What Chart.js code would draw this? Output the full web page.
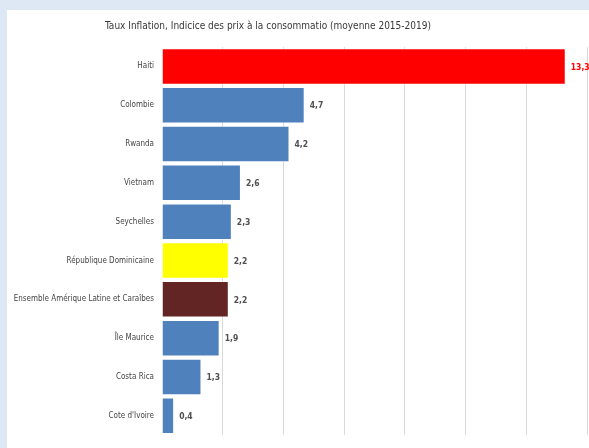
<!DOCTYPE html>
<html>
<head>
<meta charset="utf-8">
<script src="https://cdn.jsdelivr.net/npm/chart.js@4/dist/chart.umd.min.js"></script>
<style>
  html, body { margin: 0; padding: 0; background: #dde8f4; width: 589px; height: 448px; overflow: hidden; }
  #wrap { position: absolute; left: 7px; top: 10px; width: 582px; height: 438px; background: #ffffff; }
  canvas { display: block; }
</style>
</head>
<body>
<div id="wrap"><canvas id="c" width="582" height="438"></canvas></div>
<script>
const titleText = "Taux Inflation, Indicice des prix à la consommatio (moyenne 2015-2019)";
const categories = [
  "Haiti", "Colombie", "Rwanda", "Vietnam", "Seychelles",
  "République Dominicaine", "Ensemble Amérique Latine et Caraîbes",
  "Île Maurice", "Costa Rica", "Cote d'Ivoire"
];
const inflation = [13.3, 4.7, 4.2, 2.6, 2.3, 2.2, 2.2, 1.9, 1.3, 0.4];
const barColors = [
  "#ff0000", "#4f81bd", "#4f81bd", "#4f81bd", "#4f81bd",
  "#ffff00", "#632523", "#4f81bd", "#4f81bd", "#4f81bd"
];
const labelColors = [
  "#ff0000", "#505050", "#505050", "#505050", "#505050",
  "#505050", "#505050", "#505050", "#505050", "#505050"
];
const FONT = "'DejaVu Sans Condensed', sans-serif";

// chart title, centred over the full drawing
const titlePlugin = {
  id: "fixedTitle",
  afterDraw(chart) {
    const ctx = chart.ctx;
    ctx.save();
    ctx.font = "10px " + FONT;
    ctx.fillStyle = "#383838";
    ctx.textAlign = "center";
    ctx.textBaseline = "middle";
    ctx.fillText(titleText, 261, 16);
    ctx.restore();
  }
};

// value written just past the end of each bar, decimal comma
const valueLabels = {
  id: "valueLabels",
  afterDatasetsDraw(chart) {
    const ctx = chart.ctx;
    const meta = chart.getDatasetMeta(0);
    ctx.save();
    ctx.font = "bold 8.5px " + FONT;
    ctx.textAlign = "left";
    ctx.textBaseline = "middle";
    meta.data.forEach((bar, i) => {
      ctx.fillStyle = labelColors[i];
      ctx.fillText(inflation[i].toFixed(1).replace(".", ","), bar.x + 5, bar.y + 1);
    });
    ctx.restore();
  }
};

new Chart(document.getElementById("c"), {
  type: "bar",
  data: {
    labels: categories,
    datasets: [{
      data: inflation,
      backgroundColor: barColors,
      borderColor: "rgba(255,255,255,0.55)",
      borderWidth: 1,
      barPercentage: 0.94,
      categoryPercentage: 1.0
    }]
  },
  options: {
    indexAxis: "y",
    responsive: false,
    animation: false,
    layout: { padding: { top: 37, bottom: 4, right: 2, left: 0 } },
    plugins: { legend: { display: false }, tooltip: { enabled: false } },
    scales: {
      x: {
        min: 0, max: 14,
        ticks: { display: false, stepSize: 2 },
        border: { display: false },
        grid: {
          color: (c) => (c.tick && c.tick.value === 0 ? "rgba(0,0,0,0)" : "#d9d9d9"),
          drawTicks: false
        },
        afterFit(s) { s.height = 0; }
      },
      y: {
        ticks: {
          color: "#444444",
          font: { family: FONT, size: 8 },
          padding: 8,
          autoSkip: false
        },
        border: { display: false },
        grid: { display: false, drawTicks: false },
        afterFit(s) { s.width = 155; }
      }
    }
  },
  plugins: [titlePlugin, valueLabels]
});
</script>
</body>
</html>
